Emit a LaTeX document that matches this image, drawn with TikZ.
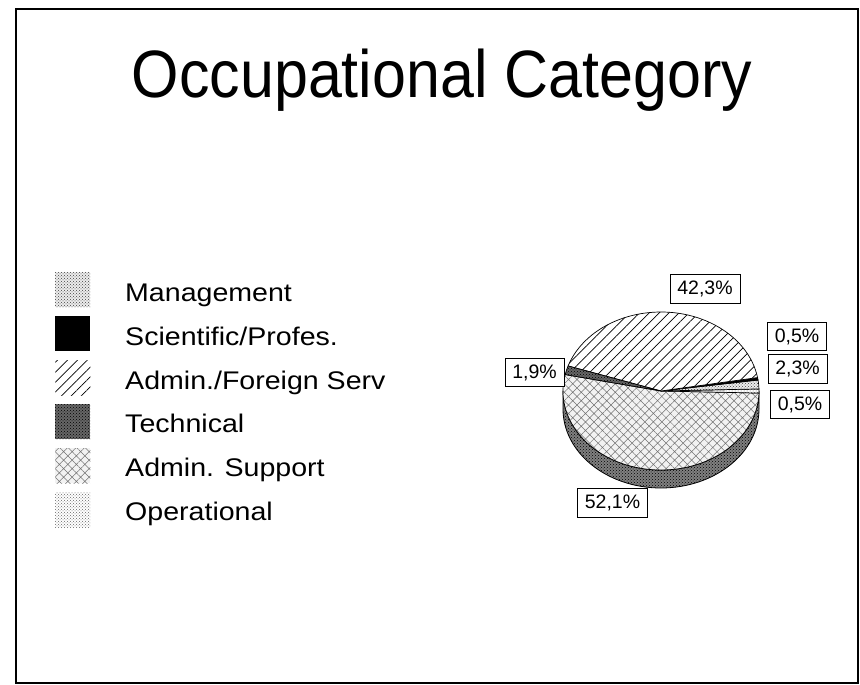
\documentclass[tikz,border=0pt]{standalone}
\usepackage{fontspec}
\setmainfont{Liberation Sans}
\newfontfamily\titlefont[FakeStretch=0.91]{Liberation Sans}
\newfontfamily\legfont[FakeStretch=1.12]{Liberation Sans}
\usetikzlibrary{patterns,patterns.meta}
\newcommand{\mySlice}[3]{\filldraw[#1, draw=black, line width=0.7pt] (0,0) -- (#2:98pt and 79pt) arc[start angle=#2, end angle=#3, x radius=98pt, y radius=79pt] -- cycle;}
\tikzset{
  frame/.style={draw=black, line width=2pt},
  titletext/.style={anchor=base, inner sep=0pt, font=\titlefont\fontsize{67}{72}\selectfont},
  legtext/.style={anchor=base west, inner sep=0pt, font=\legfont\fontsize{25.5}{30}\selectfont},
  swatch/.style={minimum width=35pt, minimum height=35pt, inner sep=0pt, anchor=north west},
  pctbox/.style={draw=black, line width=0.9pt, fill=white, inner xsep=7.3pt, inner ysep=0pt, minimum height=28.5pt, font=\fontsize{19.5}{22}\selectfont},
  fMgmt/.style={preaction={fill=gray!15}, pattern=crosshatch dots, pattern color=black!75},
  fSci/.style={fill=black},
  fAdmF/.style={preaction={fill=white}, pattern={Lines[angle=45,distance=7pt,line width=0.7pt]}, pattern color=black},
  fTech/.style={preaction={fill=black!60}, pattern=crosshatch dots, pattern color=black},
  fAdmS/.style={preaction={fill=gray!10}, pattern={Hatch[angle=45,distance=6pt,line width=0.5pt]}, pattern color=black!55},
  fOper/.style={preaction={fill=white}, pattern=crosshatch dots, pattern color=black!60},
  fWall/.style={preaction={fill=black!50}, pattern=crosshatch dots, pattern color=black},
}
\begin{document}
\begin{tikzpicture}[x=1pt,y=-1pt]
\useasboundingbox (0,0) rectangle (860,685);
\fill[white] (0,0) rectangle (860,685);
\draw[frame] (16,9.5) rectangle (858,683);

\node[titletext] (title) at (442,97) {Occupational Category};

% legend
\node[swatch, fMgmt] (swMgmt) at (55,272) {};
\node[swatch, fSci]  (swSci)  at (55,316) {};
\node[swatch, fAdmF] (swAdmF) at (55,360) {};
\node[swatch, fTech] (swTech) at (55,404) {};
\node[swatch, fAdmS] (swAdmS) at (55,448) {};
\node[swatch, fOper] (swOper) at (55,492) {};

\node[legtext] (tMgmt) at (125,301.7) {Management};
\node[legtext] (tSci)  at (125,345.4) {Scientific/Profes.};
\node[legtext] (tAdmF) at (125,389.1) {Admin./Foreign Serv};
\node[legtext] (tTech) at (125,432.8) {Technical};
\node[legtext] (tAdmS) at (125,476.5) {Admin. Support};
\node[legtext] (tOper) at (125,520.2) {Operational};

% pie
\begin{scope}[shift={(661,391)}, x=1pt, y=1pt]
  \filldraw[fWall, draw=black, line width=0.8pt] (180:98pt and 79pt) arc[start angle=180, end angle=360, x radius=98pt, y radius=79pt] -- ++(0,-18pt) arc[start angle=360, end angle=180, x radius=98pt, y radius=79pt] -- cycle;
  \mySlice{fAdmS}{168}{358.5}
  \mySlice{fOper}{358.5}{361.5}
  \mySlice{fMgmt}{1.5}{8}
  \mySlice{fSci}{8}{9.8}
  \mySlice{fAdmF}{9.8}{161.5}
  \mySlice{fTech}{161.5}{168}
\end{scope}

% labels
\node[pctbox] (lAdmF) at (705,289) {42,3\%};
\node[pctbox] (lSci)  at (797,336.5) {0,5\%};
\node[pctbox] (lMgmt) at (797.5,369) {2,3\%};
\node[pctbox] (lOper) at (800,404.5) {0,5\%};
\node[pctbox] (lTech) at (534.5,372.5) {1,9\%};
\node[pctbox] (lAdmS) at (612.5,503) {52,1\%};
\end{tikzpicture}
\end{document}
